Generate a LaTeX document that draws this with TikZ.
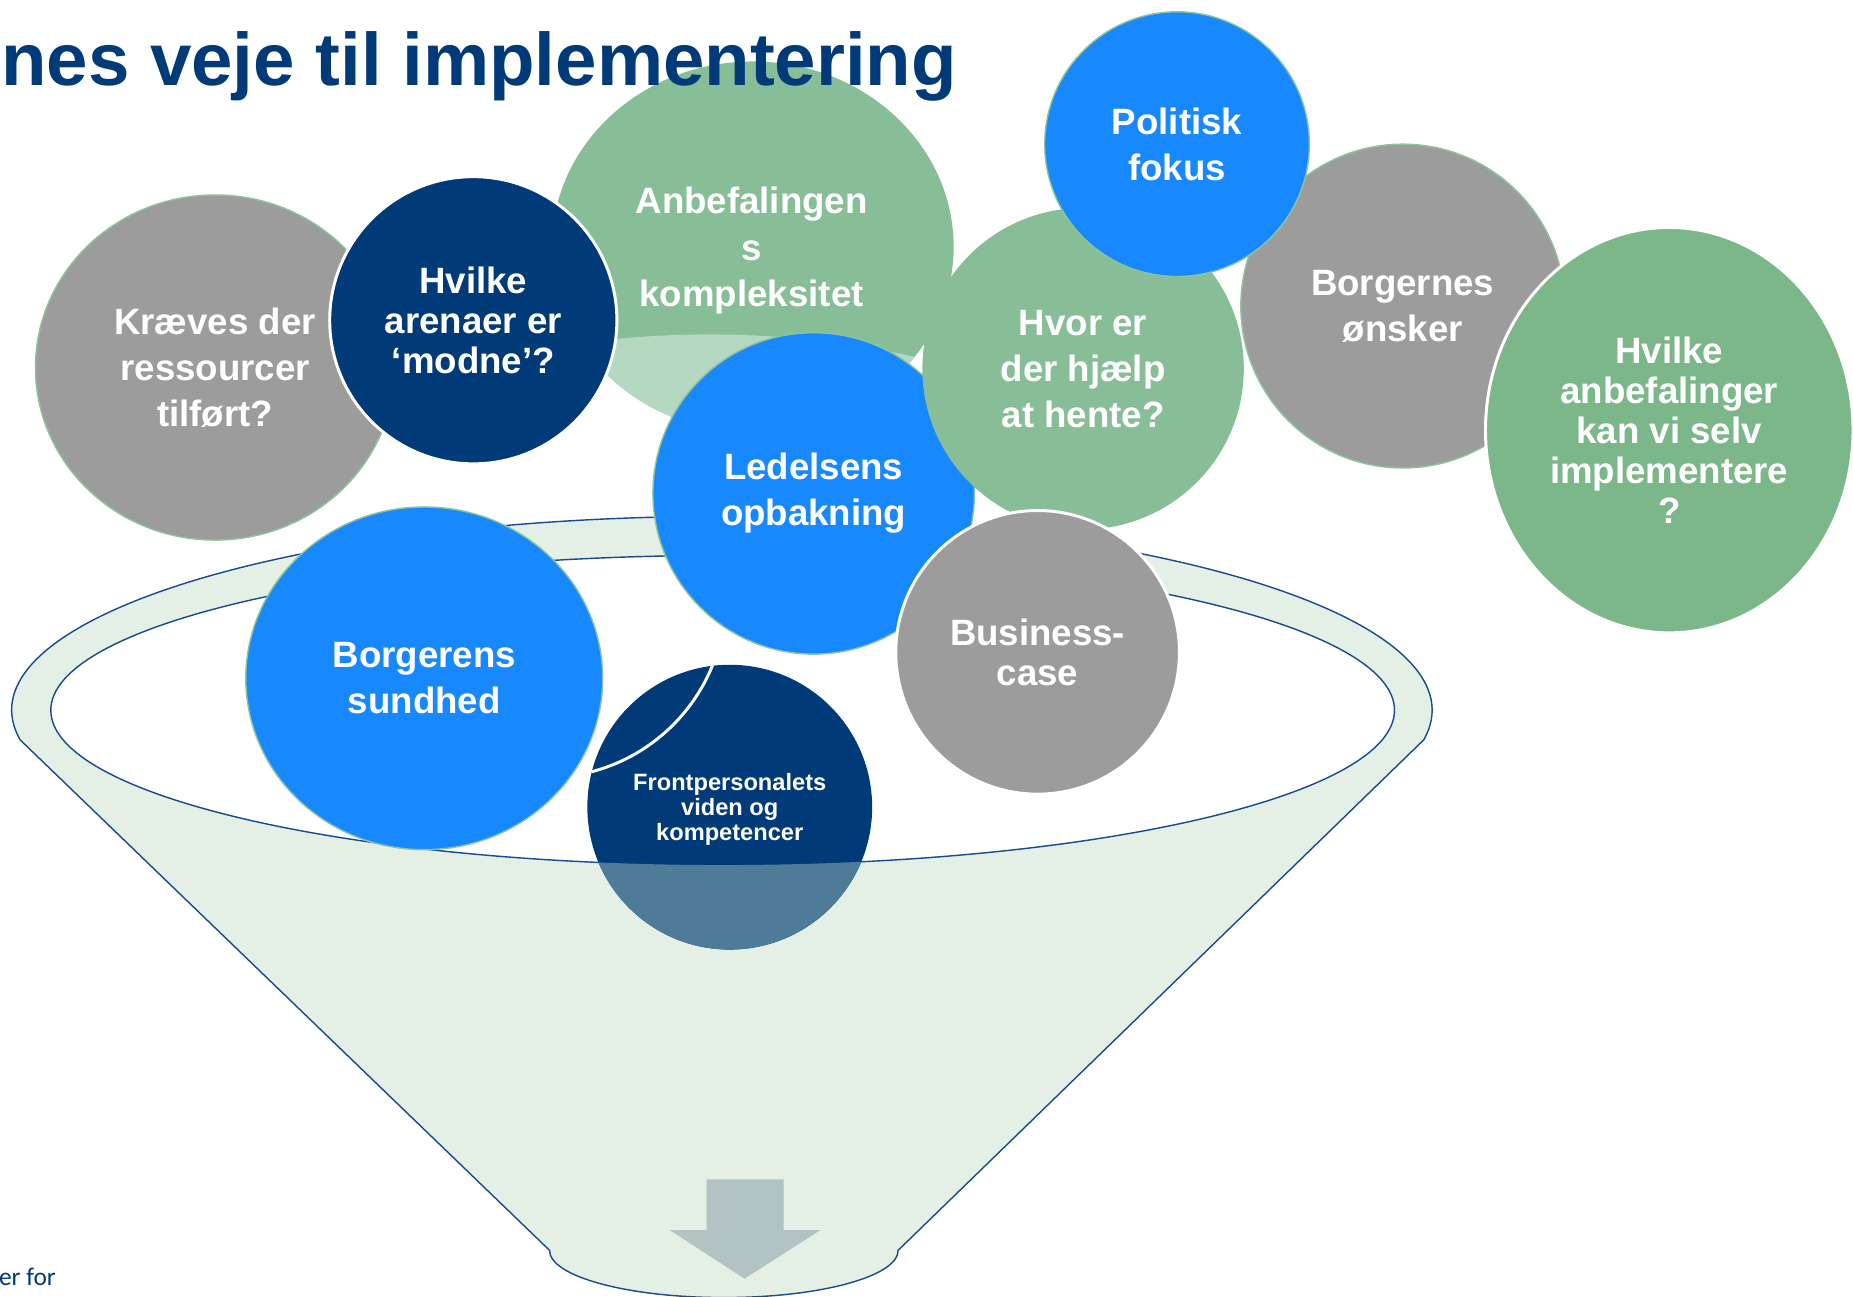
\documentclass[tikz,border=0pt]{standalone}
\usepackage{fontspec}
\setmainfont{Liberation Sans}
\newfontfamily\carlito{Carlito}
\usetikzlibrary{shapes.geometric}
\definecolor{navy}{HTML}{003A78}
\definecolor{bblue}{HTML}{1888FF}
\definecolor{bgrey}{HTML}{9C9C9C}
\definecolor{bgreen}{HTML}{88BE97}
\definecolor{bgreenb}{HTML}{7CB78A}
\definecolor{lgreen}{HTML}{B5D8C1}
\definecolor{funfill}{HTML}{E4EFE6}
\definecolor{funline}{HTML}{1A4B8C}
\definecolor{arrgrey}{HTML}{B3C2C2}
\definecolor{frontlow}{HTML}{4E7B98}
\definecolor{rimgreen}{HTML}{8CC49A}
\tikzset{
  bub/.style={inner sep=0pt, outer sep=0pt, text=white, align=center,
              font=\bfseries\fontsize{31}{39}\selectfont},
  tight/.style={font=\bfseries\fontsize{31}{34}\selectfont},
  small/.style={font=\bfseries\fontsize{20}{21}\selectfont},
  rimline/.style={draw=rimgreen, line width=1.2pt},
  whiteline/.style={draw=white, line width=2.5pt},
  funnelline/.style={draw=funline, line width=1.2pt}
}
\begin{document}
\begin{tikzpicture}[x=1pt,y=-1pt]
\useasboundingbox (0,0) rectangle (1568,1097);
\clip (0,0) rectangle (1568,1097);

% funnel
\draw[funnelline, fill=funfill] (17,626)
  arc[start angle=188.8, end angle=-8.8, x radius=601pt, y radius=164pt]
  -- (760,1058)
  arc[start angle=0, end angle=-180, x radius=147.5pt, y radius=40pt]
  -- cycle;
\draw[funnelline, fill=white] (611.5,601) ellipse[x radius=568.5pt, y radius=131pt];

% arrow
\fill[arrgrey] (598,998) -- (663,998) -- (663,1041) -- (694,1041) -- (630,1082)
  -- (567,1041) -- (598,1041) -- cycle;

% bubbles
\node[bub, ellipse, minimum width=304pt, minimum height=292pt, fill=bgrey, rimline]
  (kraeves) at (182,311) {Kræves der\\ressourcer\\tilført?};

\node[ellipse, minimum width=340pt, minimum height=314pt, inner sep=0pt, outer sep=0pt, fill=bgreen]
  (anbef) at (637,209) {};
\begin{scope}
  \clip (anbef.center) ellipse[x radius=170pt, y radius=157pt];
  \fill[lgreen] (600,1083) circle[radius=800pt];
\end{scope}
\node[bub] (anbeftext) at (636,212) {Anbefalingen\\s\\kompleksitet};

\node[bub, tight, circle, minimum size=243pt, fill=navy, whiteline]
  (arenaer) at (400.5,271) {Hvilke\\arenaer er\\‘modne’?};

\node[bub, circle, minimum size=272pt, fill=bblue, rimline]
  (ledelse) at (688.5,417.5) {Ledelsens\\opbakning};

\node[bub, circle, minimum size=272pt, fill=bgreen]
  (hvorer) at (916.5,312) {Hvor er\\der hjælp\\at hente?};

\node[bub, circle, minimum size=274pt, fill=bgrey, rimline]
  (borgernes) at (1187,259) {Borgernes\\ønsker};

\node[bub, circle, minimum size=224pt, fill=bblue, rimline]
  (politisk) at (996,122) {Politisk\\fokus};

\node[bub, tight, ellipse, minimum width=311pt, minimum height=343pt, fill=bgreenb, whiteline]
  (hvilkeanb) at (1412.5,364) {Hvilke\\anbefalinger\\kan vi selv\\implementere\\?};

\node[bub, ellipse, minimum width=302pt, minimum height=290pt, fill=bblue, rimline]
  (borgerens) at (359,574) {Borgerens\\sundhed};

\node[bub, tight, circle, minimum size=240pt, fill=bgrey, whiteline]
  (business) at (878,552) {Business-\\case};

\node[circle, minimum size=241pt, inner sep=0pt, outer sep=0pt, fill=navy]
  (front) at (617.5,683) {};
\begin{scope}
  \clip (front.center) circle[radius=120.5pt];
  \fill[frontlow, even odd rule] (400,540) rectangle (840,820)
    (611.5,601) ellipse[x radius=568.5pt, y radius=131pt];
  \draw[white, line width=2.5pt] (462,506) circle[radius=152pt];
\end{scope}
\node[bub, small] (fronttext) at (617.5,685) {Frontpersonalets\\viden og\\kompetencer};

% title and footer
\node[anchor=base east, inner sep=0pt, text=navy,
      font=\bfseries\fontsize{63}{70}\selectfont] (title) at (810,72)
  {nes veje til implementering};
\node[anchor=base west, inner sep=0pt, text=navy,
      font=\carlito\fontsize{21.5}{24}\selectfont] (erfor) at (-1,1088) {er for};
\end{tikzpicture}
\end{document}
